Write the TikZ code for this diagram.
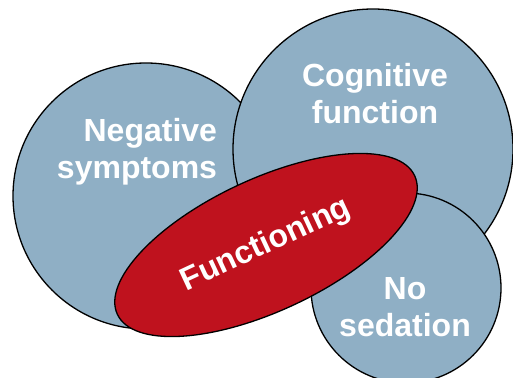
\documentclass[tikz,border=0pt]{standalone}
\usepackage{fontspec}
\setmainfont{Liberation Sans}
\usetikzlibrary{shapes.geometric}
\definecolor{bubblegray}{RGB}{143,175,197}
\definecolor{funcred}{RGB}{191,18,30}

\begin{document}
\begin{tikzpicture}[x=1pt, y=-1pt, align=center,
    bubble/.style={circle, draw=black, line width=1.3pt, fill=bubblegray, inner sep=0pt},
    bubbletext/.style={text=white, font=\fontsize{32}{37}\selectfont\bfseries, inner sep=0pt}]
    \useasboundingbox (0,0) rectangle (513,377);
    % circles, back to front
    \node [bubble, minimum size=266pt] (negcirc) at (146,196) {};
    \node [bubble, minimum size=280pt] (cogcirc) at (373,149) {};
    \node [bubble, minimum size=190pt] (sedcirc) at (406,288) {};
    \node [bubbletext, align=right] (neg) at (137,152) {Negative\\symptoms};
    \node [bubbletext] (cog) at (375,94) {Cognitive\\function};
    \node [bubbletext] (sed) at (405,307) {No\\sedation};
    % the ellipse on top
    \node [ellipse, draw=black, line width=1.3pt, fill=funcred, bubbletext,
           minimum width=328pt, minimum height=132pt, rotate=25] (func) at (266,245) {Functioning};
\end{tikzpicture}
\end{document}
